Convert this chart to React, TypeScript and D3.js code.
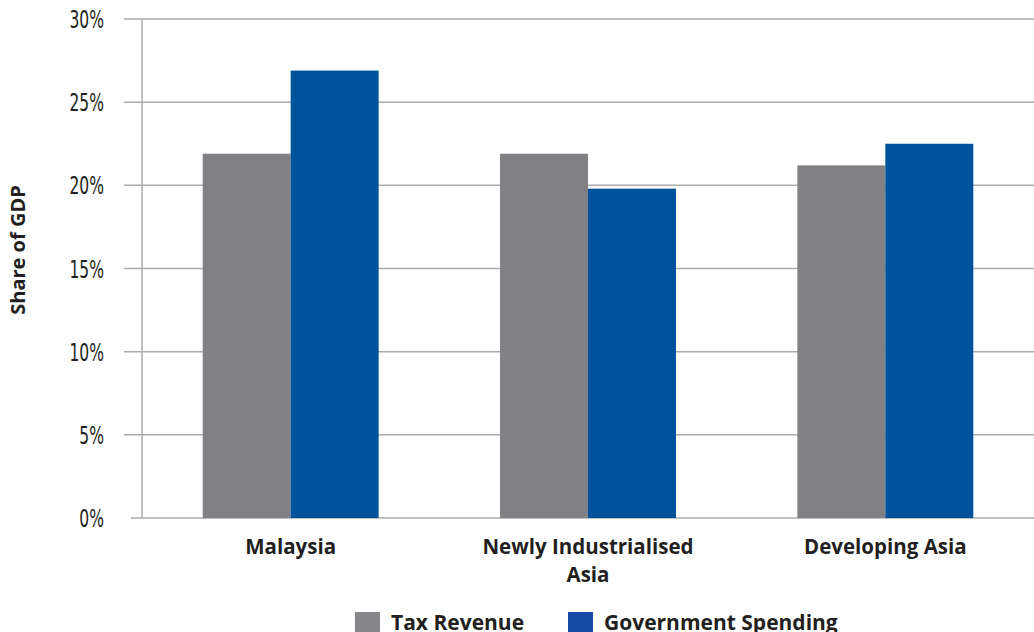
import React from "react";
import * as d3 from "d3";

const categories = ["Malaysia", "Newly Industrialised|Asia", "Developing Asia"];
const series = ["Tax Revenue", "Government Spending"];
const taxRevenue = [21.9, 21.9, 21.2];
const govSpending = [26.9, 19.8, 22.5];
const yTicks = [0, 5, 10, 15, 20, 25, 30];
const barColors = ["#818185", "#00529b"];
const legendColors = ["#87878b", "#1549a3"];

export default function App() {
  const W = 1034, H = 632;
  const left = 142, right = 1034, top = 19, bottom = 518;
  const y = d3.scaleLinear().domain([0, 30]).range([bottom, top]);
  const x0 = d3.scaleBand().domain(categories).range([left, right]).padding(0);
  const x1 = d3.scaleBand().domain(series).range([0, x0.bandwidth()]).paddingInner(0).paddingOuter(0.69);
  const values = [taxRevenue, govSpending];
  const tickFont = "'DejaVu Sans Condensed', 'Liberation Sans Narrow', sans-serif";
  const boldFont = "'Open Sans', Lato, sans-serif";
  return (
    <svg width={W} height={H} style={{ position: "absolute", left: 0, top: 0, background: "#fff" }}>
      {yTicks.map((t) => (
        <g key={t}>
          <line x1={t === 0 ? 131 : 124} x2={right} y1={y(t)} y2={y(t)} stroke="#ababab" strokeWidth={1.5} />
          <text
            transform={`translate(104,${y(t) + 9}) scale(0.72,1)`}
            textAnchor="end"
            fontFamily={tickFont}
            fontSize={24}
            fill="#231f20"
          >
            {t}%
          </text>
        </g>
      ))}
      <line x1={left} x2={left} y1={top} y2={bottom} stroke="#ababab" strokeWidth={1.5} />
      {categories.map((c, ci) => (
        <g key={c}>
          {series.map((s, si) => (
            <rect
              key={s}
              x={(x0(c) as number) + (x1(s) as number)}
              y={y(values[si][ci])}
              width={x1.bandwidth()}
              height={bottom - y(values[si][ci])}
              fill={barColors[si]}
            />
          ))}
          {c.split("|").map((line, li) => (
            <text
              key={li}
              x={(x0(c) as number) + x0.bandwidth() / 2}
              y={554 + li * 28}
              textAnchor="middle"
              fontFamily={boldFont}
              fontWeight="bold"
              fontSize={20.5}
              fill="#231f20"
            >
              {line}
            </text>
          ))}
        </g>
      ))}
      <text
        transform={`translate(25,250) rotate(-90)`}
        textAnchor="middle"
        fontFamily={boldFont}
        fontWeight="bold"
        fontSize={20}
        fill="#231f20"
      >
        Share of GDP
      </text>
      {series.map((s, si) => {
        const lx = si === 0 ? 355 : 568;
        return (
          <g key={s}>
            <rect x={lx} y={612} width={25} height={22} fill={legendColors[si]} />
            <text x={lx + 36} y={630} fontFamily={boldFont} fontWeight="bold" fontSize={21} fill="#231f20">
              {s}
            </text>
          </g>
        );
      })}
    </svg>
  );
}
